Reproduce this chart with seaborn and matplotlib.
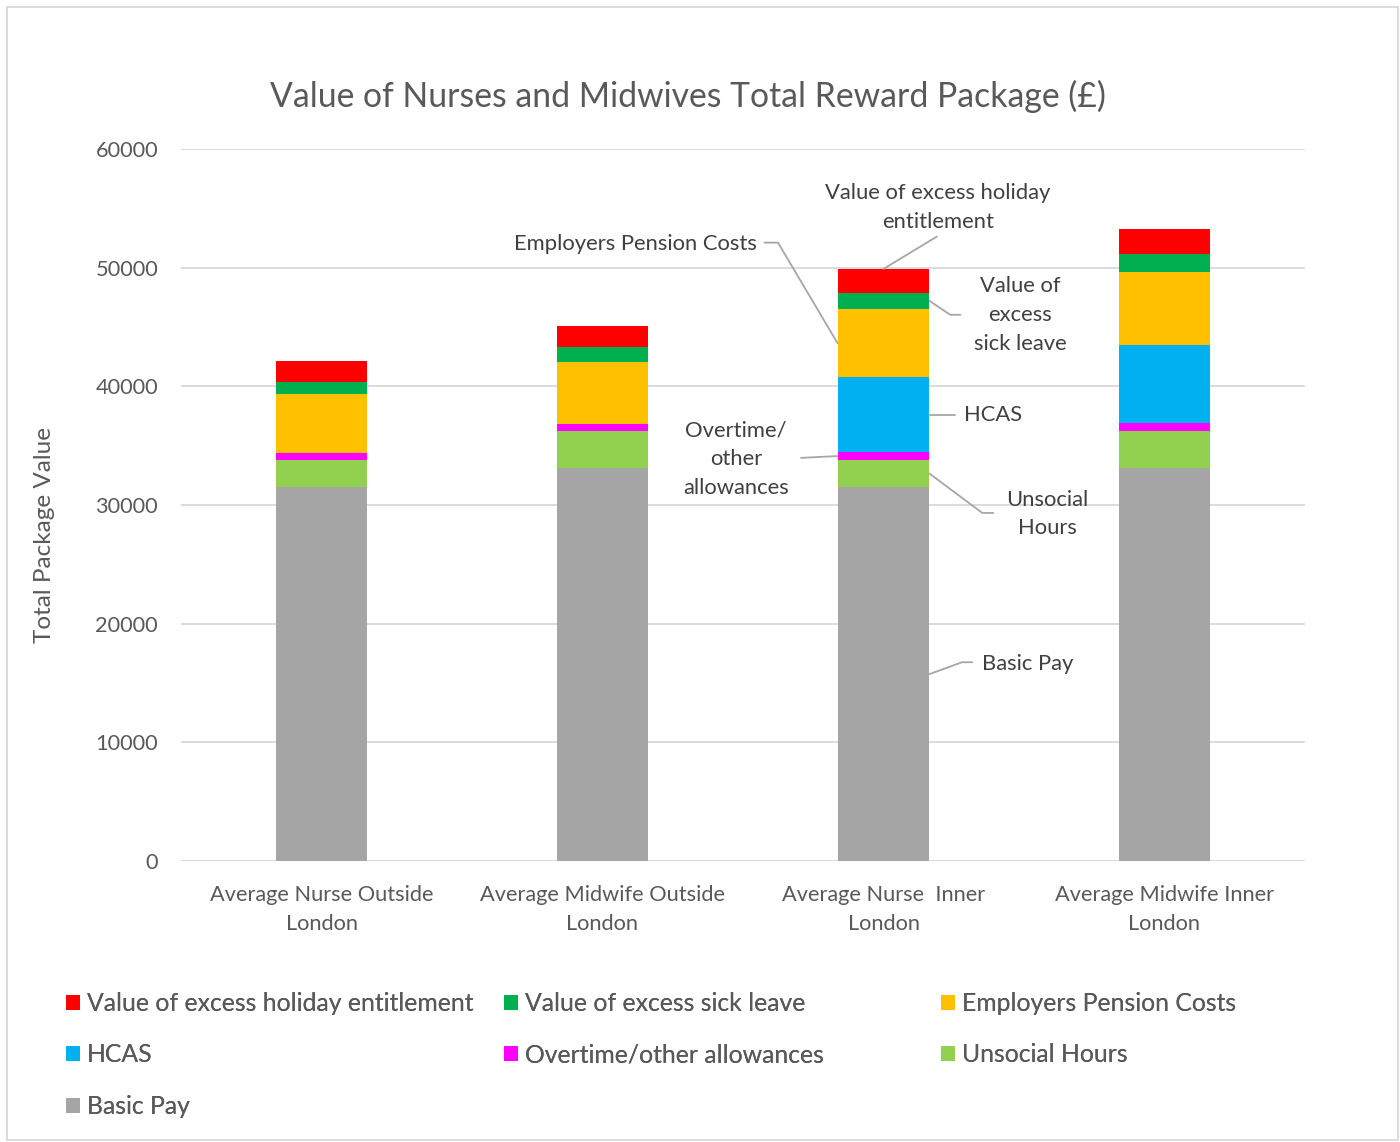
import matplotlib
matplotlib.use("Agg")
import matplotlib.pyplot as plt
from matplotlib.patches import Patch, Rectangle
import numpy as np
import pandas as pd
import seaborn as sns

# ---- data -------------------------------------------------------------
categories = [
    "Average Nurse Outside\nLondon",
    "Average Midwife Outside\nLondon",
    "Average Nurse  Inner\nLondon",
    "Average Midwife Inner\nLondon",
]
# stacking order, bottom to top
components = [
    "Basic Pay",
    "Unsocial Hours",
    "Overtime/other allowances",
    "HCAS",
    "Employers Pension Costs",
    "Value of excess sick leave",
    "Value of excess holiday entitlement",
]
basic_pay = [31500, 33100, 31500, 33100]
unsocial_hours = [2300, 3130, 2300, 3150]
overtime = [620, 620, 650, 675]
hcas = [0, 0, 6300, 6580]
pension = [4900, 5230, 5770, 6160]
sick_leave = [1070, 1210, 1375, 1460]
holiday = [1770, 1800, 2000, 2170]

colors = {
    "Basic Pay": "#a5a5a5",
    "Unsocial Hours": "#92d050",
    "Overtime/other allowances": "#ff00ff",
    "HCAS": "#00b0f0",
    "Employers Pension Costs": "#ffc000",
    "Value of excess sick leave": "#00b050",
    "Value of excess holiday entitlement": "#ff0000",
}

series = [basic_pay, unsocial_hours, overtime, hcas, pension, sick_leave, holiday]
values = np.array(series, dtype=float)
cum = np.cumsum(values, axis=0)
lower = cum - values

rows = []
for ci, comp in enumerate(components):
    for ki, cat in enumerate(categories):
        rows.append({"category": cat, "component": comp,
                     "value": values[ci, ki], "top": cum[ci, ki]})
df = pd.DataFrame(rows)

# ---- style ------------------------------------------------------------
sns.set_theme(style="white")
FONT = ["Lato", "DejaVu Sans"]
plt.rcParams["font.family"] = FONT
TXT = "#595959"
GRID = "#d9d9d9"
LEAD = "#a6a6a6"

W, H = 1400, 1142
fig = plt.figure(figsize=(W / 100, H / 100), dpi=100)
ax = fig.add_axes([181 / W, 1 - 861 / H, (1305 - 181) / W, (861 - 149) / H])

BAR_W = 0.327
# overlay cumulative totals, tallest first, to form the stack
for comp in reversed(components):
    sub = df[df["component"] == comp]
    sns.barplot(data=sub, x="category", y="top", order=categories,
                color=colors[comp], saturation=1, width=BAR_W,
                edgecolor="none", linewidth=0, ax=ax, zorder=2)

ax.set_ylim(0, 60000)
ax.set_xlim(-0.5, 3.5)
ax.set_yticks(np.arange(0, 60001, 10000))
ax.yaxis.grid(True, color=GRID, linewidth=1.3)
ax.set_axisbelow(True)
for s in ax.spines.values():
    s.set_visible(False)
ax.set_xlabel("")
ax.set_ylabel("")
ax.tick_params(axis="both", length=0, labelsize=15.7, labelcolor=TXT)
ax.tick_params(axis="x", pad=17.5)
ax.tick_params(axis="y", pad=16.5)
for lab in ax.get_xticklabels():
    lab.set_linespacing(1.52)

fig.text(45 / W, 1 - 535 / H, "Total Package Value", rotation=90,
         ha="center", va="center", fontsize=17.5, color=TXT)
fig.text(688 / W, 1 - 96 / H, "Value of Nurses and Midwives Total Reward Package (£)",
         ha="center", va="center", fontsize=24.3, color=TXT)

# ---- leader-line labels on the third bar --------------------------------
k = 2
right = k + BAR_W / 2
left = k - BAR_W / 2
mid = (lower[:, k] + cum[:, k]) / 2
idx = {c: i for i, c in enumerate(components)}
ann_fs = 15.8


def leader(points, text, tx, ty, ha, ls=1.55):
    xs, ys = zip(*points)
    ax.plot(xs, ys, color=LEAD, linewidth=1.3, zorder=3, clip_on=False)
    ax.text(tx, ty, text, ha=ha, va="center", fontsize=ann_fs, color="#404040",
            linespacing=ls, zorder=4)


leader([(right, mid[idx["Basic Pay"]]), (right + 0.116, 16750), (right + 0.152, 16750)],
       "Basic Pay", 2.35, 16580, "left")
leader([(right, mid[idx["Unsocial Hours"]]), (right + 0.188, 29330), (right + 0.227, 29330)],
       "Unsocial\nHours", 2.582, 29240, "center")
leader([(right, mid[idx["HCAS"]]), (right + 0.091, mid[idx["HCAS"]])],
       "HCAS", 2.285, 37590, "left")
leader([(right, mid[idx["Value of excess sick leave"]]), (right + 0.074, 46030), (right + 0.11, 46030)],
       "Value of\nexcess\nsick leave", 2.486, 46030, "center")
leader([(k, cum[idx["Value of excess holiday entitlement"], k]), (k + 0.19, 52620)],
       "Value of excess holiday\nentitlement", 2.194, 55060, "center")
leader([(left, mid[idx["Employers Pension Costs"]]), (left - 0.212, 52110), (left - 0.26, 52110)],
       "Employers Pension Costs", 1.55, 52030, "right")
leader([(left, mid[idx["Overtime/other allowances"]]), (left - 0.13, 33970)],
       "Overtime/\nother\nallowances", 1.475, 33880, "center")

# ---- legend (three columns, row-major reading order) --------------------
legend_cols = [
    (67, ["Value of excess holiday entitlement", "HCAS", "Basic Pay"]),
    (505, ["Value of excess sick leave", "Overtime/other allowances"]),
    (942, ["Employers Pension Costs", "Unsocial Hours"]),
]
for px, names in legend_cols:
    handles = [Patch(facecolor=colors[n], edgecolor="none", label=n) for n in names]
    lg = fig.legend(handles=handles, loc="upper left",
                    bbox_to_anchor=((px - 1.0) / W, 1 - 992 / H),
                    frameon=False, fontsize=17.8, labelcolor=TXT,
                    handlelength=0.56, handleheight=0.56, handletextpad=0.28,
                    labelspacing=1.15, borderaxespad=0, borderpad=0)
    fig.add_artist(lg)

# chart border
fig.add_artist(Rectangle((7 / W, 1 - 1140 / H), (1398 - 7) / W, (1140 - 7) / H,
                         transform=fig.transFigure, fill=False,
                         edgecolor=GRID, linewidth=1.3))

fig.savefig("out.png", dpi=100, facecolor="white")
